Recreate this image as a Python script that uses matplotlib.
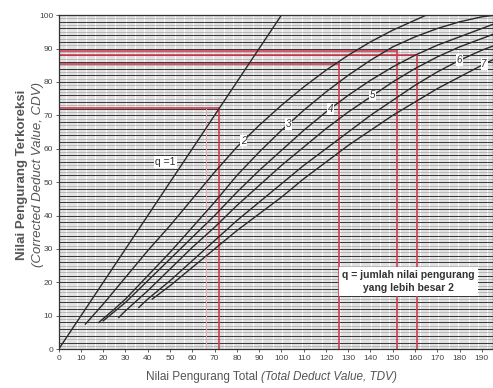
import numpy as np
import matplotlib.pyplot as plt

# CDV curves (TDV -> CDV)
q1_x = [0, 100]
q1_y = [0, 100]

q2_x = [12, 20, 30, 40, 50, 60, 70, 80, 90, 100, 110, 120, 130, 140, 150, 160, 165]
q2_y = [7.5, 13.5, 21.5, 29.5, 37, 45, 53, 60.5, 67, 73, 78.5, 83.5, 88, 92, 95.5, 98.5, 100]

q3_x = [18, 25, 30, 40, 50, 60, 70, 80, 90, 100, 110, 120, 130, 140, 150, 160, 170, 180, 190, 196]
q3_y = [8, 12, 15, 22, 29, 36.5, 44, 52, 59, 65.5, 71.5, 77, 82, 86.5, 90.5, 93.5, 96, 98, 99.5, 100]

q4_x = [20, 30, 40, 50, 60, 70, 80, 90, 100, 110, 120, 130, 140, 150, 160, 170, 180, 190, 196]
q4_y = [8.5, 14, 20.5, 27, 33.5, 40, 47, 53.5, 59.5, 65.5, 71, 76, 80.5, 84.5, 88, 91, 93.5, 96, 97.5]

q5_x = [27, 30, 40, 50, 60, 70, 80, 90, 100, 110, 120, 130, 140, 150, 160, 170, 180, 190, 196]
q5_y = [9.5, 11.5, 17.5, 24, 30.5, 36.5, 43, 49, 55, 60.5, 66, 71, 75.5, 80, 84, 87.5, 90.5, 93, 94.5]

q6_x = [36, 40, 50, 60, 70, 80, 90, 100, 110, 120, 130, 140, 150, 160, 170, 180, 190, 196]
q6_y = [12.5, 15, 20.5, 26.5, 32.5, 38.5, 44, 49.5, 55, 60, 65, 70, 74.5, 79, 83, 86.5, 89.5, 91]

q7_x = [42, 50, 60, 70, 80, 90, 100, 110, 120, 130, 140, 150, 160, 170, 180, 190, 196]
q7_y = [15, 19, 24.5, 30, 35.5, 40.5, 45.5, 51, 56, 61, 65.5, 70, 74, 78, 81.5, 85, 87]

curve_names = ['2', '3', '4', '5', '6', '7']
label_at = [83, 103, 122, 141, 180, 191]

tdv_read = [72, 126, 152, 161]
cdv_read = [72.3, 85.5, 89.3, 88.0]

x_ticks = list(range(0, 200, 10))
y_ticks = list(range(0, 101, 10))

plt.rcParams['font.family'] = ['Liberation Sans', 'DejaVu Sans']

fig = plt.figure(figsize=(4.93, 3.88), dpi=100)
ax = fig.add_axes([0.119, 0.1, 0.881, 0.861])
ax.set_xlim(0, 195)
ax.set_ylim(0, 100)

# dense graph-paper grid
for xv in np.arange(0, 196, 1):
    ax.axvline(xv, color='#8a8a8a', lw=0.35, zorder=0)
for yv in np.arange(0, 101, 1):
    if yv % 2 == 0:
        ax.axhline(yv, color='#3a3a3a', lw=0.75, zorder=0)
    else:
        ax.axhline(yv, color='#a0a0a0', lw=0.45, zorder=0)

# red reading lines
ax.plot([66, 66], [0, 72], color='#e6b3b8', lw=0.7, zorder=1)
for tx, cy in zip(tdv_read, cdv_read):
    ax.plot([0, tx], [cy, cy], color='#d03c50', lw=1.2, zorder=1)
    ax.plot([tx, tx], [0, cy], color='#d03c50', lw=1.2, zorder=1)

curves = [(q2_x, q2_y), (q3_x, q3_y), (q4_x, q4_y), (q5_x, q5_y), (q6_x, q6_y), (q7_x, q7_y)]
ax.plot(q1_x, q1_y, color='#2a2a2a', lw=1.0, zorder=2)
for (cx, cy), name, lx in zip(curves, curve_names, label_at):
    ax.plot(cx, cy, color='#2a2a2a', lw=1.0, zorder=2)
    ly = np.interp(lx, cx, cy)
    ax.text(lx, ly, name, fontsize=7, style='italic', ha='center', va='center', color='#333',
            bbox=dict(facecolor='white', edgecolor='none', pad=0.6), zorder=3)

ax.text(48, 56, 'q =1', fontsize=7.5, ha='center', va='center', color='#333',
        bbox=dict(facecolor='white', edgecolor='none', pad=0.8), zorder=3)

ax.text(157, 20.3, 'q = jumlah nilai pengurang\nyang lebih besar 2', fontsize=7.5, fontweight='bold',
        family=['Liberation Sans Narrow', 'Liberation Sans'], ha='center', va='center',
        color='#333', linespacing=1.3,
        bbox=dict(facecolor='white', edgecolor='none', pad=2.5), zorder=3)

ax.set_xticks(x_ticks)
ax.set_yticks(y_ticks)
ax.tick_params(labelsize=6, length=2, width=0.6, colors='#444', pad=2)
for s in ax.spines.values():
    s.set_color('#333')
    s.set_linewidth(0.9)

fig.text(0.045, 0.549, 'Nilai Pengurang Terkoreksi', rotation=90, fontsize=9.5, fontweight='bold',
         color='#555', ha='center', va='center')
fig.text(0.078, 0.549, '(Corrected Deduct Value, CDV)', rotation=90, fontsize=9.5, style='italic',
         color='#555', ha='center', va='center')
fig.text(0.522, 0.028, 'Nilai Pengurang Total', fontsize=8.5, color='#555', ha='right', va='center')
fig.text(0.530, 0.028, '(Total Deduct Value, TDV)', fontsize=8.5, style='italic', color='#555',
         ha='left', va='center')

fig.savefig('out.png', dpi=100, facecolor='white')
